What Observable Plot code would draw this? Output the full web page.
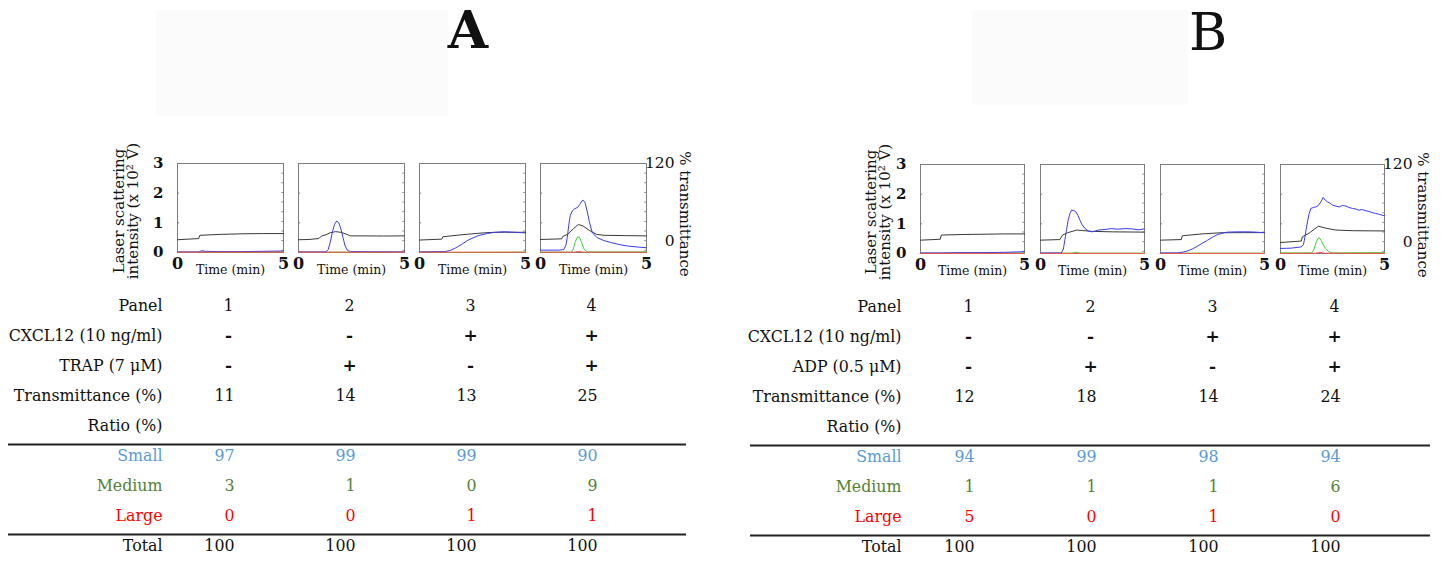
<!DOCTYPE html>
<html>
<head>
<meta charset="utf-8">
<script src="https://cdn.jsdelivr.net/npm/d3@7"></script>
<script src="https://cdn.jsdelivr.net/npm/@observablehq/plot@0.6"></script>
<style>
  body { margin: 0; background: #fff; }
  #page { position: relative; width: 1446px; height: 563px; overflow: hidden; font-family: "DejaVu Serif", serif; color: #111; }
  .box { position: absolute; }
  .shade { position: absolute; background: #fbfbfb; }
  .letter { position: absolute; font-size: 52px; line-height: 1; transform: translateX(-50%); }
</style>
</head>
<body>
<div id="page">
  <div class="shade" style="left:156px;top:10px;width:292px;height:106px"></div>
  <div class="shade" style="left:972px;top:10px;width:216px;height:95px"></div>
  <div class="letter" style="left:468px;top:4px;font-weight:bold">A</div>
  <div class="letter" style="left:1208px;top:6px">B</div>
  <div class="box" id="tracesA"></div>
  <div class="box" id="tracesB"></div>
  <div class="box" id="tableA"></div>
  <div class="box" id="tableB"></div>
</div>
<script>
// ---- shared axes ----
const panels = [1, 2, 3, 4];
const timeDomain = [0, 5];
const timeTicks = [0, 5];
const intensityDomain = [0, 3];
const intensityTicks = [0, 1, 2, 3];
const transmittanceTicks = [0, 120];
const transmittanceMinor = [-15, 0, 15, 30, 45, 60, 75, 90, 105, 120];
// right-hand % transmittance axis: 0 % sits at 0.4 on the intensity axis, 120 % at the top
const transmittanceZero = 0.4;

const seriesNames = ["Transmittance", "Medium", "Small", "Large"];
const seriesColors = ["#3a3a3a", "#36d936", "#3b3bef", "#ff4d4d"];

// ---- A: TRAP traces, [time (min), value] ----
const aTransmittance = [
  [[0, 1.4], [0.5, 2.3], [1.0, 3.2], [1.05, 8.3], [2, 9.7], [3, 10.6], [4, 11], [5, 11]],
  [[0, 1.4], [0.5, 1.8], [0.95, 3.2], [1.1, 7.4], [1.3, 9.2], [1.5, 12.4], [1.75, 14], [2.0, 12.9], [2.25, 10.2], [2.45, 7.4], [3, 7.4], [4, 7.2], [5, 7.4]],
  [[0, 0.9], [1.05, 2.3], [1.1, 6], [2, 9.2], [3, 12], [3.5, 12.9], [4, 13], [5, 13]],
  [[0, 1.8], [1.0, 2.8], [1.05, 6.5], [1.3, 10.2], [1.55, 18.5], [1.78, 25], [2.0, 23], [2.3, 16], [2.65, 9.7], [3, 8.3], [4, 7.8], [5, 7.4]]
];
const aSmall = [
  [[0, 0.02], [1.0, 0.02], [1.15, 0.06], [1.3, 0.04], [2, 0.03], [3, 0.03], [4, 0.04], [5, 0.05]],
  [[0, 0.02], [1.3, 0.02], [1.4, 0.1], [1.5, 0.35], [1.6, 0.7], [1.7, 0.95], [1.8, 1.06], [1.9, 1.0], [2.0, 0.8], [2.1, 0.5], [2.2, 0.22], [2.3, 0.08], [2.45, 0.03], [5, 0.02]],
  [[0, 0.02], [1.2, 0.03], [1.45, 0.07], [1.67, 0.14], [2.0, 0.28], [2.3, 0.42], [2.77, 0.57], [3.2, 0.64], [3.55, 0.68], [4.0, 0.7], [4.5, 0.68], [5, 0.66]],
  [[0, 0.08], [0.9, 0.08], [1.1, 0.1], [1.2, 0.25], [1.26, 0.5], [1.33, 0.9], [1.4, 1.24], [1.5, 1.4], [1.6, 1.47], [1.75, 1.52], [1.85, 1.62], [1.95, 1.74], [2.02, 1.76], [2.1, 1.68], [2.2, 1.4], [2.3, 1.05], [2.44, 0.67], [2.67, 0.5], [3.0, 0.4], [3.3, 0.34], [3.7, 0.27], [4.1, 0.22], [4.5, 0.19], [5, 0.16]]
];
const aMedium = [
  [[0, 0.01], [1.1, 0.01], [1.2, 0.03], [1.4, 0.01], [5, 0.02]],
  [[0, 0.01], [5, 0.01]],
  [[0, 0.01], [1.0, 0.02], [1.3, 0.0], [5, 0.01]],
  [[0, 0.01], [1.45, 0.01], [1.55, 0.12], [1.65, 0.38], [1.75, 0.53], [1.85, 0.5], [1.95, 0.32], [2.05, 0.12], [2.2, 0.02], [5, 0.02]]
];
const aLarge = [
  [[0, 0.01], [5, 0.01]],
  [[0, 0.01], [5, 0.01]],
  [[0, 0.01], [5, 0.01]],
  [[0, 0.01], [1.6, 0.01], [1.8, 0.04], [2.0, 0.01], [5, 0.01]]
];

// ---- B: ADP traces ----
const bTransmittance = [
  [[0, 2.3], [0.95, 3.7], [1.0, 10.2], [2, 11.1], [3, 11.5], [4, 12], [5, 12]],
  [[0, 2.3], [0.93, 3.2], [1.06, 10.2], [1.3, 13.8], [1.74, 18], [2.0, 17.3], [2.46, 16], [3.5, 15.2], [5, 14.8]],
  [[0, 2.3], [1.0, 3.2], [1.05, 9.2], [2, 12], [2.9, 13.8], [4, 14], [5, 14]],
  [[0, -1.4], [1.0, 0.9], [1.05, 7.4], [1.4, 13.8], [1.82, 24], [2.2, 20.8], [2.66, 18], [3.5, 17], [5, 16.6]]
];
const bSmall = [
  [[0, 0.02], [1, 0.02], [2, 0.03], [3, 0.03], [4, 0.04], [5, 0.06]],
  [[0, 0.02], [1.0, 0.02], [1.1, 0.15], [1.17, 0.45], [1.25, 0.8], [1.33, 1.12], [1.42, 1.35], [1.5, 1.46], [1.6, 1.45], [1.7, 1.4], [1.8, 1.28], [1.9, 1.12], [2.0, 0.97], [2.14, 0.84], [2.3, 0.76], [2.46, 0.73], [2.6, 0.75], [2.78, 0.79], [3.1, 0.81], [3.4, 0.84], [3.7, 0.82], [4.07, 0.84], [4.4, 0.83], [4.7, 0.8], [5, 0.83]],
  [[0, 0.02], [0.84, 0.02], [1.1, 0.05], [1.32, 0.09], [1.55, 0.16], [1.79, 0.25], [2.0, 0.34], [2.27, 0.45], [2.5, 0.55], [2.75, 0.64], [3.0, 0.69], [3.22, 0.72], [3.7, 0.73], [4.2, 0.73], [4.6, 0.72], [5, 0.7]],
  [[0, 0.17], [0.5, 0.18], [0.99, 0.22], [1.1, 0.3], [1.15, 0.45], [1.23, 0.8], [1.31, 1.12], [1.38, 1.35], [1.46, 1.52], [1.58, 1.55], [1.7, 1.57], [1.82, 1.62], [1.94, 1.74], [2.05, 1.89], [2.15, 1.8], [2.26, 1.74], [2.38, 1.7], [2.5, 1.63], [2.66, 1.6], [2.82, 1.57], [2.98, 1.62], [3.14, 1.6], [3.3, 1.55], [3.46, 1.52], [3.62, 1.5], [3.77, 1.46], [3.93, 1.48], [4.1, 1.44], [4.25, 1.42], [4.4, 1.38], [4.57, 1.35], [4.75, 1.32], [5, 1.27]]
];
const bMedium = [
  [[0, 0.01], [5, 0.02]],
  [[0, 0.01], [1.5, 0.01], [1.7, 0.04], [1.9, 0.01], [5, 0.01]],
  [[0, 0.01], [5, 0.01]],
  [[0, 0.02], [1.5, 0.02], [1.6, 0.12], [1.7, 0.35], [1.8, 0.5], [1.86, 0.53], [1.95, 0.45], [2.05, 0.3], [2.17, 0.17], [2.3, 0.07], [2.5, 0.02], [5, 0.03]]
];
const bLarge = [
  [[0, 0.005], [5, 0.005]],
  [[0, 0.005], [5, 0.005]],
  [[0, 0.005], [5, 0.005]],
  [[0, 0.005], [1.7, 0.01], [1.9, 0.04], [2.1, 0.01], [5, 0.005]]
];

// ---- table rows ----
const panelLabels = ["1", "2", "3", "4"];
const cxcl12 = ["-", "-", "+", "+"];
const trap = ["-", "+", "-", "+"];
const adp = ["-", "+", "-", "+"];
const aTransmittanceMax = [11, 14, 13, 25];
const bTransmittanceMax = [12, 18, 14, 24];
const aRatioSmall = [97, 99, 99, 90];
const aRatioMedium = [3, 1, 0, 9];
const aRatioLarge = [0, 0, 1, 1];
const bRatioSmall = [94, 99, 98, 94];
const bRatioMedium = [1, 1, 1, 6];
const bRatioLarge = [5, 0, 1, 0];

const smallColor = "#5b9bd5";
const mediumColor = "#548235";
const largeColor = "#ff0000";
const inkColor = "#111";

const toIntensity = (pct) => transmittanceZero + pct * (intensityDomain[1] - transmittanceZero) / 120;
const toPercent = (v) => (v - transmittanceZero) * 120 / (intensityDomain[1] - transmittanceZero);

function traceRows(trans, small, medium, large) {
  const rows = [];
  panels.forEach((p, i) => {
    for (const [t, pct] of trans[i]) rows.push({panel: p, series: "Transmittance", t, v: toIntensity(pct)});
    for (const [t, v] of medium[i]) rows.push({panel: p, series: "Medium", t, v});
    for (const [t, v] of small[i]) rows.push({panel: p, series: "Small", t, v});
    for (const [t, v] of large[i]) rows.push({panel: p, series: "Large", t, v});
  });
  return rows;
}

function tracesChart(rows, o) {
  return Plot.plot({
    width: o.width,
    height: 149,
    marginLeft: 80,
    marginRight: o.width - 80 - o.frameWidth,
    marginTop: 20,
    marginBottom: 40,
    style: {fontFamily: "DejaVu Serif, serif", color: inkColor, background: "transparent", overflow: "visible"},
    fx: {domain: panels, paddingInner: o.gap, paddingOuter: 0, axis: null, label: null},
    x: {domain: timeDomain},
    y: {domain: intensityDomain},
    color: {domain: seriesNames, range: seriesColors},
    marks: [
      Plot.frame({stroke: "#7c7c7c"}),
      Plot.ruleY([1, 2], {x1: timeDomain[0], x2: 0.1, stroke: "#7c7c7c"}),
      Plot.ruleY(transmittanceMinor.map(toIntensity), {x1: 4.92, x2: timeDomain[1], stroke: "#8a8a8a"}),
      Plot.line(rows, {fx: "panel", x: "t", y: "v", z: "series", stroke: "series", strokeWidth: 1}),
      Plot.axisY({ticks: intensityTicks, tickFormat: (d) => String(d), tickSize: 0, tickPadding: 14, label: null, facetAnchor: "left", fontSize: 15, fontWeight: "bold"}),
      Plot.axisY({anchor: "right", ticks: transmittanceTicks.map(toIntensity), tickFormat: (v) => String(Math.round(toPercent(v))),
        tickSize: 0, tickPadding: 28, textAnchor: "end", label: null, facetAnchor: "right", fontSize: 15.5}),
      Plot.axisX({ticks: timeTicks, tickFormat: (d) => String(d), tickSize: 0, tickPadding: 5, label: null, fontSize: 16, fontWeight: "bold"}),
      Plot.text(panels, {fx: (d) => d, text: () => "Time (min)", frameAnchor: "bottom", dy: 21, fontSize: 12.5}),
      Plot.text([panels[0]], {fx: (d) => d, text: () => "Laser scattering", frameAnchor: "left", textAnchor: "middle", rotate: -90, dx: -o.titleOffset, dy: 3, fontSize: 15}),
      Plot.text([panels[0]], {fx: (d) => d, text: () => "intensity (x 10² V)", frameAnchor: "left", textAnchor: "middle", rotate: -90, dx: -o.titleOffset + 14, dy: 3, fontSize: 15}),
      Plot.text([panels[3]], {fx: (d) => d, text: () => "% transmittance", frameAnchor: "right", textAnchor: "middle", rotate: 90, dx: 38, dy: 6, fontSize: 15})
    ]
  });
}

function tableChart(agentLabel, agent, trans, small, medium, large, o) {
  const rowNames = ["Panel", "CXCL12 (10 ng/ml)", agentLabel, "Transmittance (%)", "Ratio (%)", "Small", "Medium", "Large", "Total"];
  const rowColors = {Small: smallColor, Medium: mediumColor, Large: largeColor};
  const cells = [];
  panels.forEach((p, i) => {
    cells.push({row: "Panel", panel: p, text: panelLabels[i], anchor: "middle"});
    cells.push({row: "CXCL12 (10 ng/ml)", panel: p, text: cxcl12[i], anchor: "sign"});
    cells.push({row: agentLabel, panel: p, text: agent[i], anchor: "sign"});
    cells.push({row: "Transmittance (%)", panel: p, text: String(trans[i]), anchor: "end"});
    cells.push({row: "Small", panel: p, text: String(small[i]), anchor: "end"});
    cells.push({row: "Medium", panel: p, text: String(medium[i]), anchor: "end"});
    cells.push({row: "Large", panel: p, text: String(large[i]), anchor: "end"});
    cells.push({row: "Total", panel: p, text: String(small[i] + medium[i] + large[i]), anchor: "end"});
  });
  cells.forEach((c) => (c.color = rowColors[c.row] || inkColor));
  return Plot.plot({
    width: o.width,
    height: 283,
    marginLeft: o.ruleLeft,
    marginRight: o.width - o.ruleRight,
    marginTop: 0,
    marginBottom: 0,
    style: {fontFamily: "DejaVu Serif, serif", color: inkColor, background: "transparent", overflow: "visible"},
    x: {type: "point", domain: panels, range: o.colRange, padding: 0, axis: null},
    y: {type: "point", domain: rowNames, range: o.rowRange, padding: 0, axis: null},
    color: {type: "identity"},
    marks: [
      Plot.ruleY(["Small"], {y: (d) => d, dy: -11, stroke: "#222", strokeWidth: 1.8}),
      Plot.ruleY(["Total"], {y: (d) => d, dy: -11, stroke: "#222", strokeWidth: 1.8}),
      Plot.text(rowNames, {y: (d) => d, text: (d) => d, frameAnchor: "left", dx: o.labelRight - o.ruleLeft, textAnchor: "end",
        fill: (d) => rowColors[d] || inkColor, fontSize: 15.8}),
      Plot.text(cells.filter((c) => c.anchor === "middle"), {x: "panel", y: "row", text: "text", fill: "color", textAnchor: "middle", fontSize: 15.8}),
      Plot.text(cells.filter((c) => c.anchor === "sign"), {x: "panel", y: "row", text: "text", fill: "color", textAnchor: "middle", fontSize: 17, fontWeight: "bold"}),
      Plot.text(cells.filter((c) => c.anchor === "end"), {x: "panel", y: "row", text: "text", fill: "color", textAnchor: "end", dx: 6, fontSize: 15.8})
    ]
  });
}

function place(id, node, left, top) {
  const el = document.getElementById(id);
  el.style.left = left + "px";
  el.style.top = top + "px";
  el.appendChild(node);
}

place("tracesA", tracesChart(traceRows(aTransmittance, aSmall, aMedium, aLarge), {width: 599, frameWidth: 469, gap: 0.124, titleOffset: 58}), 97, 143);
place("tracesB", tracesChart(traceRows(bTransmittance, bSmall, bMedium, bLarge), {width: 598, frameWidth: 468, gap: 0.132, titleOffset: 49}), 838, 144);

place("tableA", tableChart("TRAP (7 μM)", trap, aTransmittanceMax, aRatioSmall, aRatioMedium, aRatioLarge,
  {width: 700, ruleLeft: 8, ruleRight: 686, labelRight: 162, colRange: [228, 591], rowRange: [21, 268]}), 0, 280);
place("tableB", tableChart("ADP (0.5 μM)", adp, bTransmittanceMax, bRatioSmall, bRatioMedium, bRatioLarge,
  {width: 706, ruleLeft: 10, ruleRight: 690, labelRight: 161, colRange: [228, 594], rowRange: [22, 269]}), 740, 280);
</script>
</body>
</html>
